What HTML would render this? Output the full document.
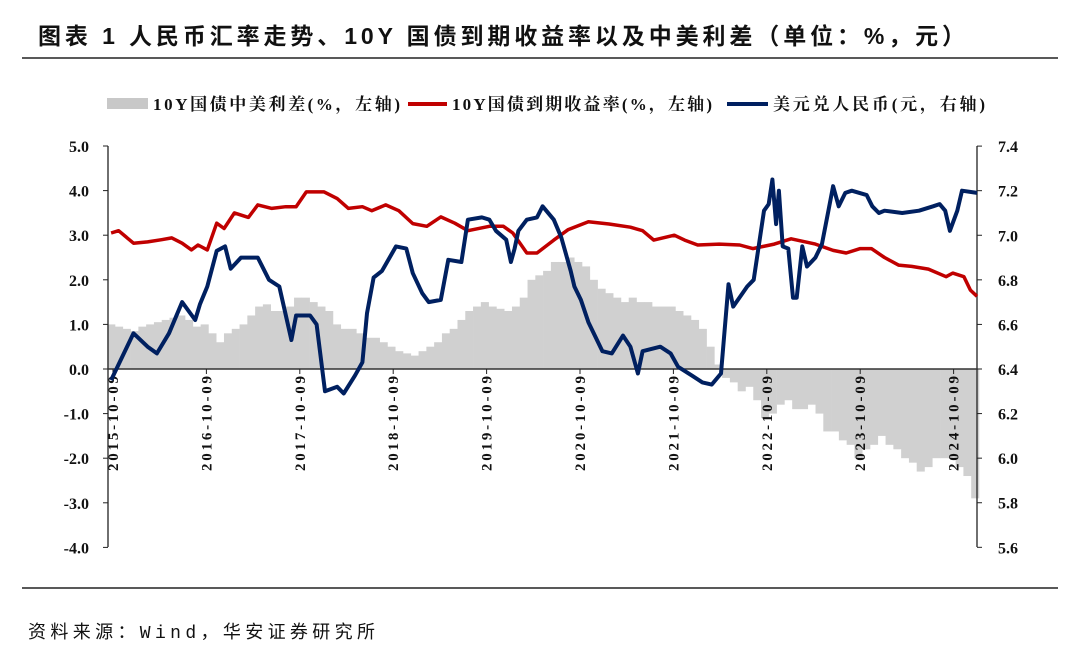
<!DOCTYPE html>
<html><head><meta charset="utf-8">
<style>
body{margin:0;background:#fff;width:1080px;height:656px;overflow:hidden}
svg text{font-family:"Liberation Serif","Noto Serif CJK SC",serif;font-weight:bold;fill:#111}
</style></head><body>
<svg id="chart" width="1080" height="656" xmlns="http://www.w3.org/2000/svg">
<text x="38" y="44" textLength="927" lengthAdjust="spacing" style="font-family:'Liberation Sans','Noto Sans CJK SC',sans-serif;font-size:23px;font-weight:bold">图表 1 人民币汇率走势、10Y 国债到期收益率以及中美利差（单位：%，元）</text>
<line x1="22" y1="58" x2="1058" y2="58" stroke="#222" stroke-width="1.5"/>
<g>
<rect x="107" y="98" width="41" height="11" fill="#c8c8c8"/>
<text x="153" y="110" font-size="17" textLength="247" lengthAdjust="spacing">10Y国债中美利差(%，左轴)</text>
<line x1="408" y1="104" x2="447" y2="104" stroke="#c00000" stroke-width="4"/>
<text x="452" y="110" font-size="17" textLength="260" lengthAdjust="spacing">10Y国债到期收益率(%，左轴)</text>
<line x1="727" y1="104" x2="768" y2="104" stroke="#002060" stroke-width="4"/>
<text x="773" y="110" font-size="17" textLength="212" lengthAdjust="spacing">美元兑人民币(元，右轴)</text>
</g>
<g id="plot"></g>
<line x1="22" y1="588" x2="1058" y2="588" stroke="#222" stroke-width="1.5"/>
<text x="28" y="638" textLength="347" lengthAdjust="spacing" style="font-family:'Liberation Mono','Noto Sans CJK SC',monospace;font-size:18px;font-weight:normal">资料来源：Wind，华安证券研究所</text>
</svg>
<script>
const leftTicks=[5,4,3,2,1,0,-1,-2,-3,-4];
const rightTicks=[7.4,7.2,7.0,6.8,6.6,6.4,6.2,6.0,5.8,5.6];
const xTickLabels=['2015-10-09','2016-10-09','2017-10-09','2018-10-09','2019-10-09','2020-10-09','2021-10-09','2022-10-09','2023-10-09','2024-10-09'];
const xTickYears=[2015.77,2016.77,2017.77,2018.77,2019.77,2020.77,2021.77,2022.77,2023.77,2024.77];
const spreadStart=2015.75;
const spreadValues=[1.0,0.95,0.9,
0.85,0.95,1.0,1.05,1.1,1.15,1.2,1.1,0.95,1.0,0.8,0.6,
0.8,0.9,1.0,1.2,1.4,1.45,1.3,1.3,1.4,1.6,1.6,1.5,
1.4,1.3,1.0,0.9,0.9,0.8,0.7,0.7,0.6,0.5,0.4,0.35,
0.3,0.4,0.5,0.6,0.8,0.9,1.1,1.3,1.4,1.5,1.4,1.35,
1.3,1.4,1.6,2.0,2.1,2.2,2.4,2.4,2.5,2.4,2.3,2.0,
1.8,1.7,1.6,1.5,1.6,1.5,1.5,1.4,1.4,1.4,1.3,1.2,
1.1,0.9,0.5,0.1,-0.2,-0.3,-0.5,-0.4,-0.7,-1.1,-1.0,-0.8,
-0.7,-0.9,-0.9,-0.8,-1.0,-1.4,-1.4,-1.6,-1.7,-2.0,-1.8,-1.7,
-1.5,-1.7,-1.8,-2.0,-2.1,-2.3,-2.2,-2.0,-2.0,-2.0,-2.2,-2.4,
-2.9];
const yieldDates=[2015.75,2015.83,2015.99,2016.14,2016.29,2016.40,2016.51,2016.61,2016.68,2016.78,2016.88,2016.96,2017.07,2017.22,2017.32,2017.47,2017.62,2017.73,2017.84,2018.03,2018.17,2018.29,2018.44,2018.54,2018.69,2018.83,2018.98,2019.13,2019.28,2019.43,2019.57,2019.80,2019.95,2020.05,2020.20,2020.31,2020.49,2020.64,2020.86,2021.08,2021.31,2021.44,2021.56,2021.78,2021.89,2022.03,2022.26,2022.48,2022.62,2022.85,2023.03,2023.29,2023.48,2023.62,2023.77,2023.89,2024.03,2024.18,2024.32,2024.50,2024.69,2024.76,2024.88,2024.95,2025.02];
const yieldValues=[3.05,3.1,2.82,2.85,2.9,2.94,2.82,2.67,2.78,2.67,3.27,3.15,3.5,3.4,3.68,3.6,3.64,3.64,3.97,3.97,3.82,3.6,3.64,3.55,3.68,3.55,3.26,3.2,3.41,3.27,3.1,3.2,3.2,3.05,2.6,2.6,2.89,3.12,3.3,3.25,3.18,3.1,2.89,3.0,2.89,2.78,2.8,2.78,2.7,2.8,2.92,2.8,2.66,2.6,2.7,2.7,2.5,2.33,2.3,2.24,2.07,2.15,2.07,1.77,1.63];
const fxDates=[2015.75,2015.99,2016.14,2016.24,2016.37,2016.51,2016.65,2016.70,2016.78,2016.88,2016.97,2017.03,2017.14,2017.32,2017.44,2017.55,2017.68,2017.73,2017.88,2017.95,2018.04,2018.17,2018.24,2018.36,2018.44,2018.49,2018.56,2018.65,2018.80,2018.91,2018.98,2019.08,2019.15,2019.28,2019.36,2019.50,2019.57,2019.72,2019.80,2019.87,2019.98,2020.03,2020.07,2020.11,2020.20,2020.31,2020.37,2020.49,2020.57,2020.67,2020.71,2020.78,2020.86,2021.01,2021.11,2021.23,2021.31,2021.39,2021.44,2021.63,2021.74,2021.82,2021.97,2022.08,2022.18,2022.28,2022.31,2022.36,2022.41,2022.56,2022.63,2022.74,2022.79,2022.83,2022.87,2022.90,2022.94,2023.00,2023.05,2023.09,2023.15,2023.20,2023.29,2023.36,2023.43,2023.48,2023.54,2023.61,2023.68,2023.84,2023.90,2023.97,2024.03,2024.22,2024.40,2024.55,2024.62,2024.68,2024.73,2024.81,2024.86,2025.02];
const fxValues=[6.35,6.56,6.5,6.47,6.56,6.7,6.62,6.69,6.77,6.93,6.95,6.85,6.9,6.9,6.8,6.77,6.53,6.64,6.64,6.6,6.3,6.32,6.29,6.37,6.43,6.65,6.81,6.84,6.95,6.94,6.83,6.74,6.7,6.71,6.89,6.88,7.07,7.08,7.07,7.02,6.98,6.88,6.94,7.02,7.07,7.08,7.13,7.07,6.99,6.84,6.77,6.71,6.61,6.48,6.47,6.55,6.5,6.38,6.48,6.5,6.47,6.41,6.37,6.34,6.33,6.38,6.53,6.78,6.68,6.77,6.8,7.11,7.14,7.25,7.05,7.2,6.95,6.94,6.72,6.72,6.95,6.86,6.9,6.96,7.11,7.22,7.13,7.19,7.2,7.18,7.13,7.1,7.11,7.1,7.11,7.13,7.14,7.11,7.02,7.11,7.2,7.19];

const NS='http://www.w3.org/2000/svg';
const plot=document.getElementById('plot');
const L=108,R=977,T=146,B=547;
const xS=t=>113+(t-2015.77)*93.4;
const yL=v=>369-v*44.6;
const yR=v=>369-(v-6.4)*222.9;
function mk(tag,attrs){const e=document.createElementNS(NS,tag);for(const k in attrs)e.setAttribute(k,attrs[k]);plot.appendChild(e);return e;}

const bw=93.4/12;
spreadValues.forEach((v,i)=>{
  const t=spreadStart+i/12;
  const x=xS(t);const y0=yL(0),y1=yL(v);
  const r=mk('rect',{x:x-bw/2,y:Math.min(y0,y1),width:bw+0.3,height:Math.abs(y1-y0),fill:'#d0d0d0'});
  
  
});
let a=mk('line',{x1:L,y1:T,x2:L,y2:B,stroke:'#222','stroke-width':1.3});

a=mk('line',{x1:R,y1:T,x2:R,y2:B,stroke:'#222','stroke-width':1.3});

a=mk('line',{x1:L,y1:yL(0),x2:R,y2:yL(0),stroke:'#333','stroke-width':1.5});

leftTicks.forEach(v=>{
  const y=yL(v);
  const tk=mk('line',{x1:L-5,y1:y,x2:L,y2:y,stroke:'#222'});
  
  const tx=mk('text',{x:89,y:y+6,'text-anchor':'end','font-size':16});
  tx.textContent=v.toFixed(1);
  
});
rightTicks.forEach(v=>{
  const y=yR(v);
  const tk=mk('line',{x1:R,y1:y,x2:R+5,y2:y,stroke:'#222'});
  
  const tx=mk('text',{x:998,y:y+6,'font-size':16});
  tx.textContent=v.toFixed(1);
  
});
xTickYears.forEach((t,i)=>{
  const x=xS(t),y=yL(0);
  const tk=mk('line',{x1:x,y1:y,x2:x,y2:y+5,stroke:'#222'});
  
  const tx=mk('text',{x:0,y:0,'text-anchor':'end','font-size':15,textLength:95,lengthAdjust:'spacing',transform:`translate(${x+5},${y+7}) rotate(-90)`});
  tx.textContent=xTickLabels[i];
  
});
const yp=yieldDates.map((t,i)=>xS(t).toFixed(1)+','+yL(yieldValues[i]).toFixed(1)).join(' ');
const yl=mk('polyline',{points:yp,fill:'none',stroke:'#c00000','stroke-width':3.5,'stroke-linejoin':'round'});

const fp=fxDates.map((t,i)=>xS(t).toFixed(1)+','+yR(fxValues[i]).toFixed(1)).join(' ');
const fl=mk('polyline',{points:fp,fill:'none',stroke:'#002060','stroke-width':4,'stroke-linejoin':'round'});

</script>
</body></html>
